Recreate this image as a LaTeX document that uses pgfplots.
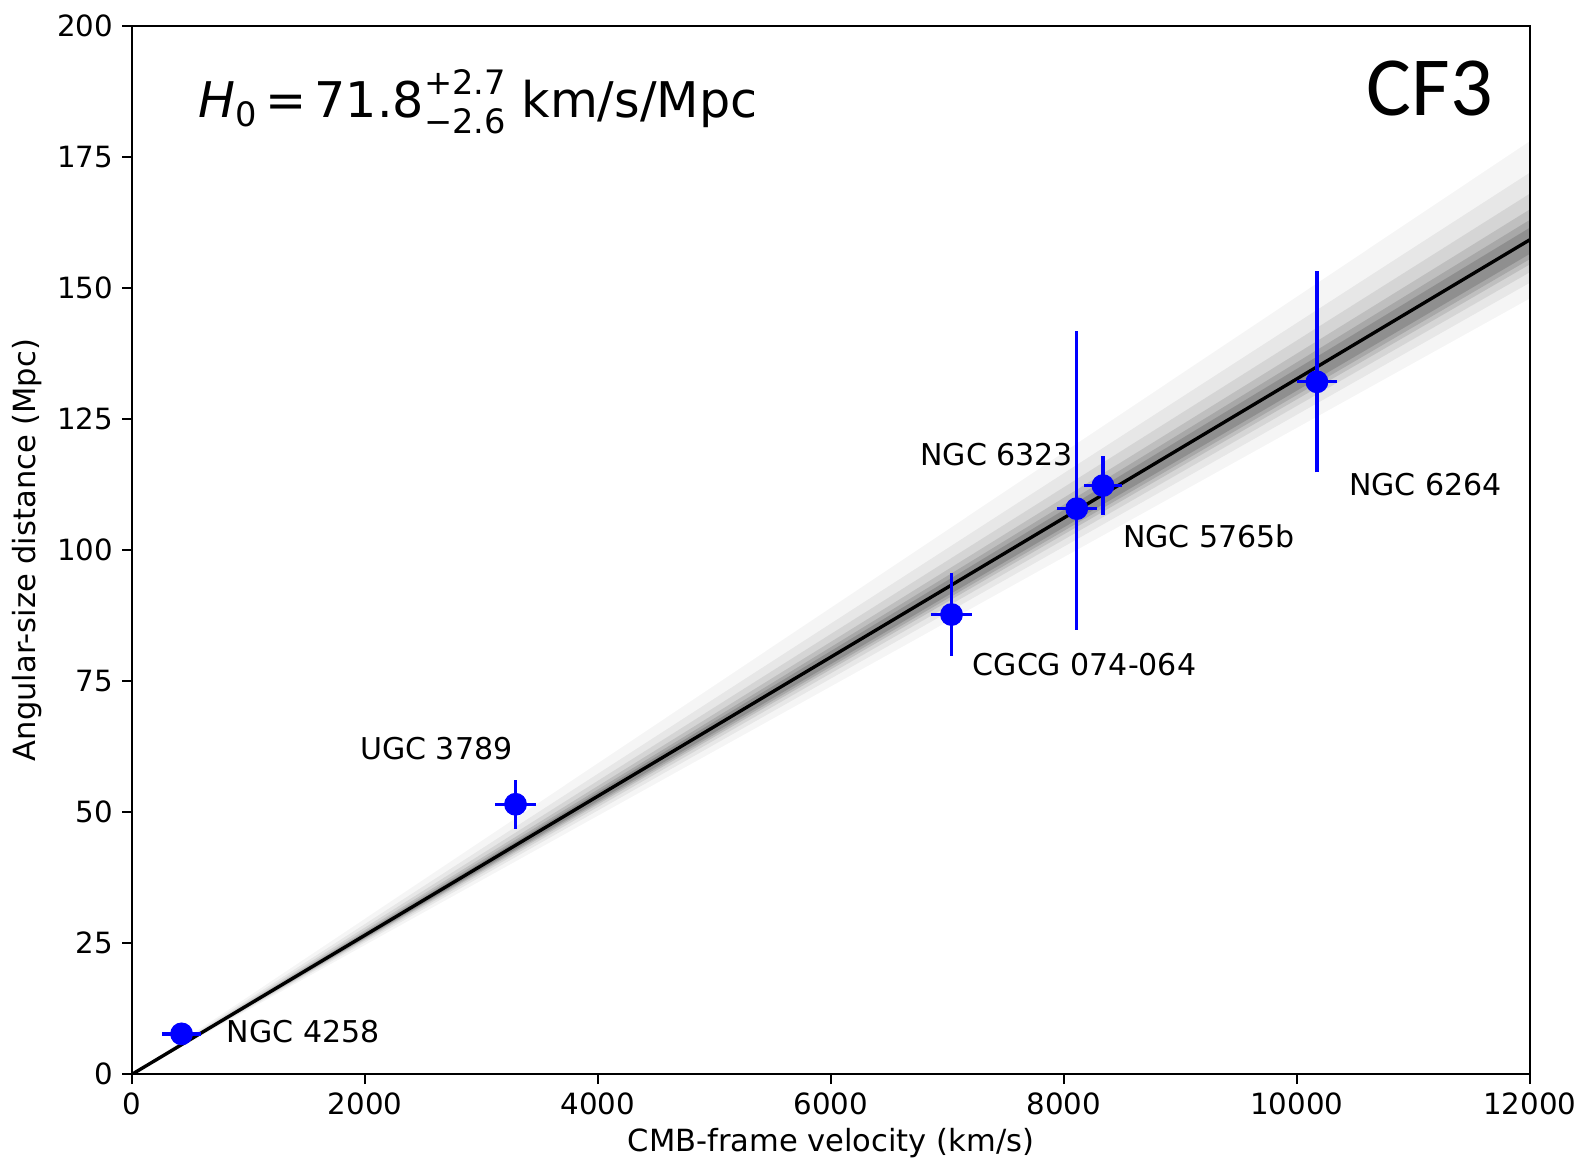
\documentclass[border=0pt]{standalone}
\usepackage{pgfplots}
\pgfplotsset{compat=1.18}
\usepackage{fontspec}
\setmainfont{DejaVu Sans}
\newfontfamily\calib{Carlito}
\definecolor{mplblue}{RGB}{0,0,255}
\begin{document}
\begin{tikzpicture}
\begin{axis}[
  width=540pt, height=405pt, scale only axis,
  xmin=0, xmax=12000, ymin=0, ymax=200,
  xtick={0,2000,...,12000}, ytick={0,25,...,200},
  scaled x ticks=false,
  xticklabel style={/pgf/number format/.cd,1000 sep={},assume math mode=true},
  /pgf/number format/assume math mode=true,
  tick label style={font=\fontsize{11.3}{13}\selectfont},
  tick align=outside, tick pos=left,
  major tick length=3.8pt,
  axis line style={line width=0.8pt},
  every tick/.style={line width=0.8pt, black},
  xlabel={CMB-frame velocity (km/s)},
  ylabel={Angular-size distance (Mpc)},
  label style={font=\fontsize{11.8}{13}\selectfont},
  xlabel style={yshift=2pt},
  ylabel style={yshift=-1pt},
  clip=true,
]
% posterior band (fan of fits)
\addplot[fill=black, opacity=0.04, draw=none] coordinates {(0,0) (12000,178) (12000,148)} -- cycle;
\addplot[fill=black, opacity=0.06, draw=none] coordinates {(0,0) (12000,172) (12000,151)} -- cycle;
\addplot[fill=black, opacity=0.08, draw=none] coordinates {(0,0) (12000,168) (12000,153)} -- cycle;
\addplot[fill=black, opacity=0.10, draw=none] coordinates {(0,0) (12000,165) (12000,154.5)} -- cycle;
\addplot[fill=black, opacity=0.12, draw=none] coordinates {(0,0) (12000,163) (12000,155.5)} -- cycle;
\addplot[fill=black, opacity=0.15, draw=none] coordinates {(0,0) (12000,161.5) (12000,156.5)} -- cycle;
% best fit
\addplot[black, line width=1.3pt] coordinates {(0,0) (12000,159.2)};
% data
\addplot[mplblue, only marks, mark=*, mark size=4.2pt, mark options={draw=mplblue, fill=mplblue},
  error bars/.cd, x dir=both, y dir=both, x explicit, y explicit,
  error mark=none, error bar style={line width=1.3pt, mplblue}]
  coordinates {
  (425,7.7) +- (170,0.6)
  (3292,51.5) +- (173,4.7)
  (7035,87.7) +- (173,8.0)
  (8335,112.3) +- (165,5.6)
  (10172,132.1) +- (173,0)
  (8110,107.9) +- (173,0)
  };
% asymmetric vertical bars
\addplot[mplblue, line width=1.3pt] coordinates {(8110,84.8) (8110,141.7)};
\addplot[mplblue, line width=1.3pt] coordinates {(10172,114.8) (10172,153.3)};
% labels
\node[anchor=west, font=\fontsize{11.6}{13}\selectfont] at (axis cs:736,8.1) {NGC 4258};
\node[anchor=west, font=\fontsize{11.6}{13}\selectfont] at (axis cs:1880,62.1) {UGC 3789};
\node[anchor=west, font=\fontsize{11.6}{13}\selectfont] at (axis cs:7139,78.1) {CGCG 074-064};
\node[anchor=west, font=\fontsize{11.6}{13}\selectfont] at (axis cs:6689,118.3) {NGC 6323};
\node[anchor=west, font=\fontsize{11.6}{13}\selectfont] at (axis cs:8430,102.7) {NGC 5765b};
\node[anchor=west, font=\fontsize{11.6}{13}\selectfont] at (axis cs:10371,112.5) {NGC 6264};
\node[anchor=west, font=\fontsize{19}{22}\selectfont] at (axis cs:494,185.5)
  {\textit{H}\raisebox{-0.35ex}{\fontsize{13}{14}\selectfont 0}\,=\,71.8\rlap{\raisebox{0.85ex}{\fontsize{13}{14}\selectfont +2.7}}\raisebox{-0.6ex}{\fontsize{13}{14}\selectfont −2.6} km/s/Mpc};
\node[anchor=east, font=\calib\fontsize{32.5}{36}\selectfont] at (axis cs:11760,188) {CF3};
\end{axis}
\path ([yshift=2.4pt]current bounding box.north) ([xshift=-1.5pt]current bounding box.west);
\end{tikzpicture}
\end{document}
